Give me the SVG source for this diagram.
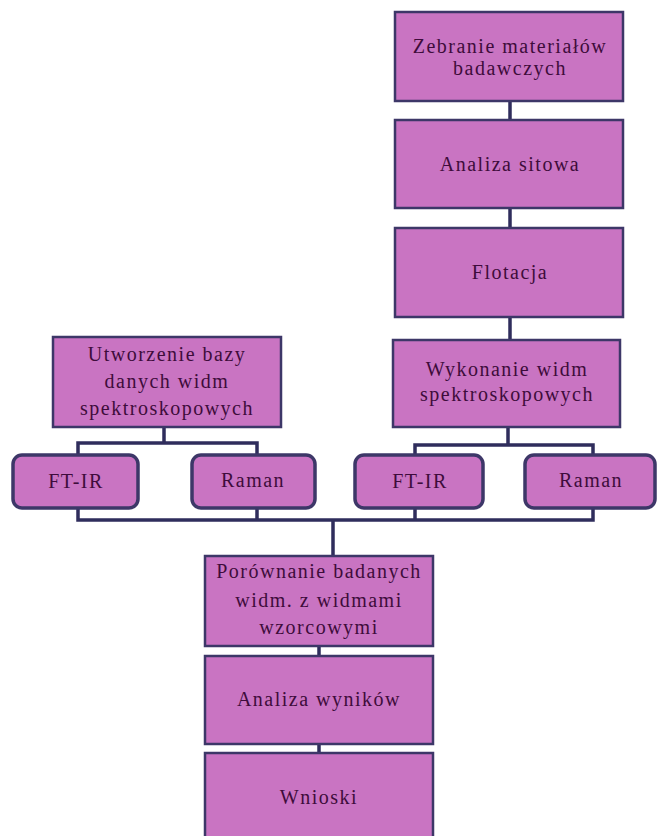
<svg xmlns="http://www.w3.org/2000/svg" width="657" height="836" viewBox="0 0 657 836">
<style>
.box{fill:#c974c2;stroke:#3d3768;stroke-width:2.5}
.rbox{fill:#c974c2;stroke:#3d3768;stroke-width:3.5}
.t{font-family:"Liberation Serif","Times New Roman",serif;font-size:20px;fill:#3e0c3b;text-anchor:middle;letter-spacing:1.5px}
.c{stroke:#2f2d5c;stroke-width:3.5;fill:none}
</style>
<rect width="657" height="836" fill="#ffffff"/>
<g id="connectors">
<path class="c" d="M510 101V120M510 208V228M510 317V340"/>
<path class="c" d="M508 427V445M415 455V445H593V455"/>
<path class="c" d="M164 427V443M78 455V443H257V455"/>
<path class="c" d="M78 508V520H593V508M257 508V520M415 508V520"/>
<path class="c" d="M333 520V556M319 646V656M319 744V753"/>
</g>
<g id="zebranie">
<rect class="box" x="395" y="12" width="228" height="89"/>
<text class="t" x="510" y="53">Zebranie materiałów</text>
<text class="t" x="510" y="75">badawczych</text>
</g>
<g id="analiza-sitowa">
<rect class="box" x="395" y="120" width="228" height="88"/>
<text class="t" x="510" y="171">Analiza sitowa</text>
</g>
<g id="flotacja">
<rect class="box" x="395" y="228" width="228" height="89"/>
<text class="t" x="510" y="279">Flotacja</text>
</g>
<g id="wykonanie">
<rect class="box" x="393" y="340" width="227" height="87"/>
<text class="t" x="507" y="376">Wykonanie widm</text>
<text class="t" x="507" y="401">spektroskopowych</text>
</g>
<g id="utworzenie">
<rect class="box" x="53" y="337" width="228" height="90"/>
<text class="t" x="167" y="361">Utworzenie bazy</text>
<text class="t" x="167" y="388">danych widm</text>
<text class="t" x="167" y="415">spektroskopowych</text>
</g>
<g id="ftir-left">
<rect class="rbox" x="13" y="455" width="125" height="53" rx="9"/>
<text class="t" x="76" y="488">FT-IR</text>
</g>
<g id="raman-left">
<rect class="rbox" x="192" y="455" width="123" height="53" rx="9"/>
<text class="t" x="253" y="487">Raman</text>
</g>
<g id="ftir-right">
<rect class="rbox" x="355" y="455" width="128" height="53" rx="9"/>
<text class="t" x="420" y="488">FT-IR</text>
</g>
<g id="raman-right">
<rect class="rbox" x="525" y="455" width="130" height="53" rx="9"/>
<text class="t" x="591" y="487">Raman</text>
</g>
<g id="porownanie">
<rect class="box" x="205" y="556" width="228" height="90"/>
<text class="t" x="319" y="578">Porównanie badanych</text>
<text class="t" x="319" y="607">widm. z widmami</text>
<text class="t" x="319" y="634">wzorcowymi</text>
</g>
<g id="analiza-wynikow">
<rect class="box" x="205" y="656" width="228" height="88"/>
<text class="t" x="319" y="706">Analiza wyników</text>
</g>
<g id="wnioski">
<rect class="box" x="205" y="753" width="228" height="95"/>
<text class="t" x="319" y="804">Wnioski</text>
</g>
</svg>
